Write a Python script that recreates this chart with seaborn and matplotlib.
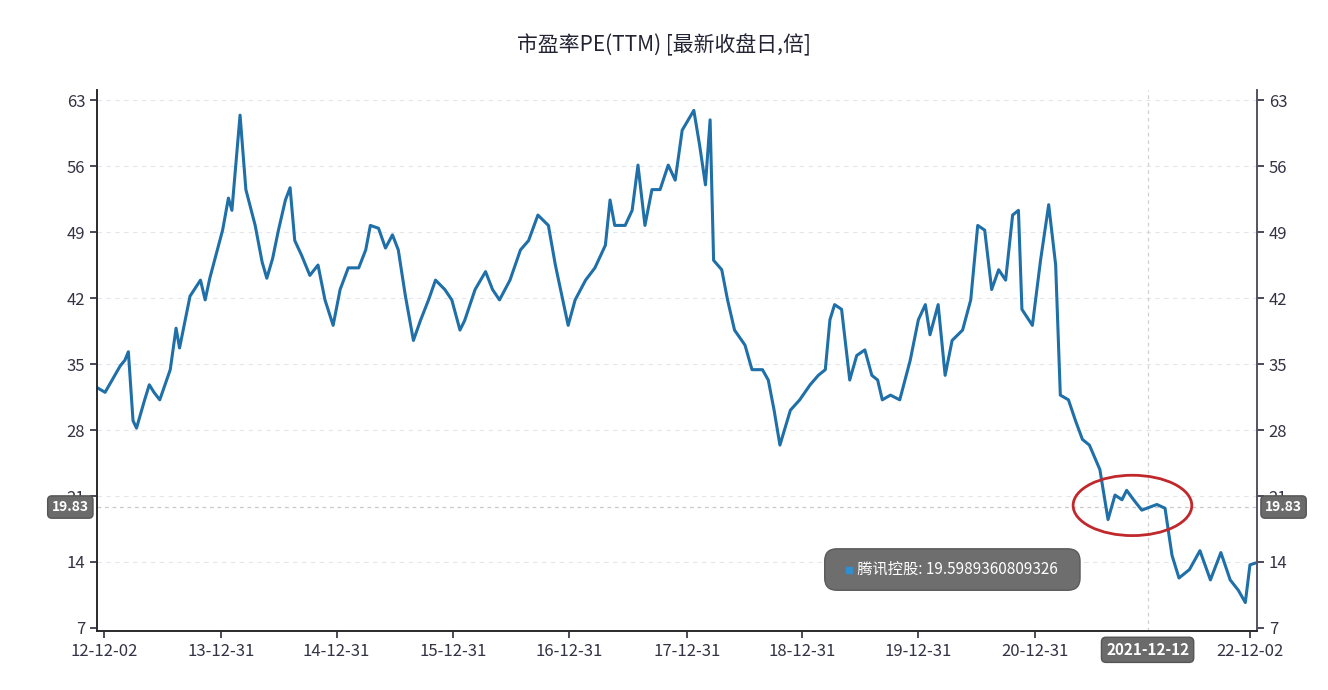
import matplotlib
matplotlib.use("Agg")
import matplotlib.pyplot as plt
import seaborn as sns
import pandas as pd
from matplotlib.patches import Ellipse

sns.set_theme(style="white")
plt.rcParams['font.family'] = ['Noto Sans CJK SC', 'DejaVu Sans']

years = [2012.86,2012.93,2013.0,2013.06,2013.1,2013.13,2013.17,2013.2,2013.27,2013.31,2013.35,2013.4,2013.49,2013.54,2013.57,2013.66,2013.75,2013.79,2013.83,2013.94,2013.99,2014.02,2014.09,2014.14,2014.22,2014.28,2014.32,2014.37,2014.42,2014.48,2014.52,2014.56,2014.62,2014.69,2014.76,2014.82,2014.89,2014.95,2015.02,2015.11,2015.17,2015.21,2015.28,2015.34,2015.4,2015.45,2015.51,2015.58,2015.64,2015.71,2015.77,2015.85,2015.91,2015.98,2016.02,2016.11,2016.2,2016.26,2016.32,2016.41,2016.5,2016.57,2016.65,2016.74,2016.8,2016.91,2016.97,2017.06,2017.14,2017.23,2017.27,2017.31,2017.4,2017.46,2017.51,2017.57,2017.63,2017.7,2017.77,2017.83,2017.89,2017.99,2018.04,2018.09,2018.13,2018.16,2018.23,2018.28,2018.34,2018.43,2018.49,2018.58,2018.63,2018.68,2018.73,2018.82,2018.9,2018.99,2019.06,2019.12,2019.16,2019.2,2019.26,2019.33,2019.39,2019.46,2019.52,2019.57,2019.61,2019.68,2019.76,2019.85,2019.92,2019.98,2020.02,2020.09,2020.15,2020.21,2020.3,2020.37,2020.43,2020.49,2020.55,2020.61,2020.67,2020.73,2020.78,2020.81,2020.9,2020.97,2021.04,2021.1,2021.14,2021.21,2021.27,2021.33,2021.39,2021.48,2021.55,2021.61,2021.67,2021.71,2021.77,2021.84,2021.97,2022.04,2022.1,2022.16,2022.25,2022.34,2022.43,2022.52,2022.6,2022.67,2022.73,2022.77,2022.82]
pe = [32.5,32,33.5,34.8,35.4,36.3,29,28.2,31.2,32.8,32,31.2,34.4,38.8,36.7,42.2,43.9,41.8,44.1,49.2,52.6,51.3,61.4,53.5,49.7,45.8,44.1,46.2,49.2,52.4,53.7,48.1,46.5,44.4,45.5,41.8,39.1,42.9,45.2,45.2,47.1,49.7,49.4,47.3,48.7,47.1,42.3,37.5,39.6,41.8,43.9,42.9,41.8,38.6,39.6,42.9,44.8,42.9,41.8,43.9,47.1,48.1,50.8,49.7,45.5,39.1,41.8,43.9,45.2,47.6,52.4,49.7,49.7,51.3,56.1,49.7,53.5,53.5,56.1,54.5,59.8,61.9,58.2,54,60.9,46,45,41.8,38.6,37,34.4,34.4,33.3,30.1,26.4,30.1,31.2,32.8,33.8,34.4,39.7,41.3,40.8,33.3,35.9,36.5,33.8,33.3,31.2,31.7,31.2,35.4,39.7,41.3,38.1,41.3,33.8,37.5,38.6,41.8,49.7,49.2,42.9,45,43.9,50.8,51.3,40.8,39.1,46,51.9,45.5,31.7,31.2,29,27,26.4,23.8,18.5,21.1,20.6,21.6,20.6,19.5,20.1,19.7,14.7,12.3,13.2,15.2,12.1,15.0,12.1,11.0,9.7,13.7,13.9]

tick_pos = [2012.92,2013.93,2014.92,2015.92,2016.92,2017.93,2018.92,2019.92,2020.92,2022.77]
tick_labels = ["12-12-02","13-12-31","14-12-31","15-12-31","16-12-31","17-12-31","18-12-31","19-12-31","20-12-31","22-12-02"]
y_ticks = [7,14,21,28,35,42,49,56,63]
latest = 19.83
cross_x = 2021.89
cross_label = "2021-12-12"
tooltip = "腾讯控股: 19.5989360809326"
title = "市盈率PE(TTM) [最新收盘日,倍]"

df = pd.DataFrame({"year": years, "pe": pe})

fig = plt.figure(figsize=(13.28, 6.9), dpi=100)
ax = fig.add_axes([0.073, 0.0855, 0.8735, 0.784])
sns.lineplot(data=df, x="year", y="pe", ax=ax, color="#1f6fa8", lw=2.2)
ax.set_xlim(2012.86, 2022.83)
ax.set_ylim(6.68, 64.06)
ax.set_yticks(y_ticks)
ax.set_xticks(tick_pos)
ax.set_xticklabels(tick_labels)
ax.set_xlabel(""); ax.set_ylabel("")
for y in y_ticks[1:]:
    ax.axhline(y, color="#e3e6ea", lw=0.8, ls=(0, (4, 4)), zorder=0)
ax.axhline(latest, color="#c8c8c8", lw=0.9, ls=(0, (3, 3)), zorder=0)
ax.axvline(cross_x, color="#d0d0d0", lw=0.9, ls=(0, (3, 3)), zorder=0)
ax.spines["top"].set_visible(False)
for s in ["left", "right", "bottom"]:
    ax.spines[s].set_color("#555566")
ax.tick_params(axis="both", colors="#333344", labelsize=12, length=5, direction="out", left=True, bottom=True)
ax2 = ax.twinx()
ax2.set_ylim(ax.get_ylim())
ax2.set_yticks(y_ticks)
ax2.tick_params(axis="y", colors="#333344", labelsize=12, length=5, right=True)
ax2.spines["top"].set_visible(False)
ax2.spines["right"].set_color("#555566")
ax2.grid(False)

box = dict(boxstyle="round,pad=0.3", fc="#6b6b6b", ec="#555555")
ax.text(-0.007, latest, "19.83", transform=ax.get_yaxis_transform(), ha="right", va="center",
        color="white", fontsize=10, fontweight="bold", bbox=box, zorder=5)
ax2.text(1.007, latest, "19.83", transform=ax2.get_yaxis_transform(), ha="left", va="center",
         color="white", fontsize=10, fontweight="bold", bbox=box, zorder=5, clip_on=False)
ax.text(cross_x, -0.02, cross_label, transform=ax.get_xaxis_transform(), ha="center", va="top",
        color="white", fontsize=11, fontweight="bold", bbox=dict(boxstyle="round,pad=0.3", fc="#6b6b6b", ec="#555555"))
ax.text(2019.22, 13.2, "      " + tooltip + "   ", ha="left", va="center", color="white", fontsize=11,
        bbox=dict(boxstyle="round,pad=0.8", fc="#6e6e6e", ec="#5a5a5a"), zorder=6)
ax.plot([2019.32], [13.2], marker="s", ms=5, color="#2f8fd0", zorder=8)
ax.add_patch(Ellipse((2021.76, 20.0), 1.02, 6.4, fill=False, ec="#c0282b", lw=2, zorder=7))
fig.text(0.5, 0.935, title, ha="center", va="center", fontsize=15, color="#222233", fontweight="medium")
fig.savefig("out.png", dpi=100)
